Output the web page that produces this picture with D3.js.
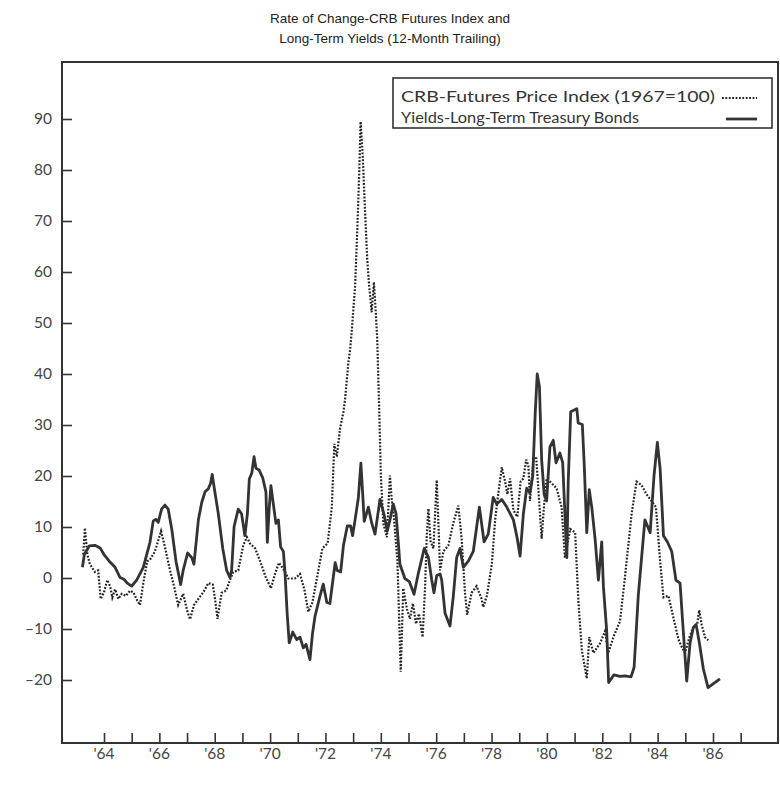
<!DOCTYPE html>
<html>
<head>
<meta charset="utf-8">
<script src="https://cdn.jsdelivr.net/npm/d3@7"></script>
<style>
  html, body { margin: 0; padding: 0; background: #fff; }
  svg { display: block; }
</style>
</head>
<body>
<div id="chart"></div>
<script>
// ---- Data (decimal year, % change) ----
const titleLines = ["Rate of Change-CRB Futures Index and", "Long-Term Yields (12-Month Trailing)"];
const legendLabels = ["CRB-Futures Price Index (1967=100)", "Yields-Long-Term Treasury Bonds"];
const yTicks = [90, 80, 70, 60, 50, 40, 30, 20, 10, 0, -10, -20];
const xTickYears = d3.range(1964, 1988);
const xLabelYears = [1964, 1966, 1968, 1970, 1972, 1974, 1976, 1978, 1980, 1982, 1984, 1986];

const yieldsSeries = [
  [1963.22,2.1],[1963.29,4.6],[1963.47,6.3],[1963.67,6.4],[1963.86,5.9],[1964.00,4.6],[1964.19,3.3],
  [1964.40,2.1],[1964.58,0.1],[1964.72,-0.25],[1964.84,-1.0],[1965.00,-1.6],[1965.18,-0.4],[1965.42,2.1],
  [1965.66,7.0],[1965.78,11.2],[1965.88,11.5],[1965.96,10.9],[1966.08,13.5],[1966.20,14.3],[1966.32,13.5],
  [1966.45,9.5],[1966.60,3.3],[1966.77,-1.3],[1966.86,1.5],[1967.02,4.9],[1967.17,4.0],[1967.25,2.7],
  [1967.41,11.4],[1967.53,14.8],[1967.65,16.9],[1967.77,17.5],[1967.85,18.6],[1967.91,20.3],[1967.97,18.1],
  [1968.13,12.6],[1968.29,5.8],[1968.43,1.5],[1968.55,0.1],[1968.61,1.5],[1968.70,10.1],[1968.85,13.5],
  [1968.97,12.6],[1969.09,8.3],[1969.18,12.6],[1969.25,19.4],[1969.34,20.6],[1969.42,23.8],[1969.49,21.5],
  [1969.60,21.2],[1969.73,19.7],[1969.85,16.9],[1969.90,7.0],[1969.97,13.8],[1970.03,18.1],[1970.12,14.4],
  [1970.21,10.7],[1970.30,11.4],[1970.38,6.1],[1970.48,5.2],[1970.54,0.9],[1970.62,-7.2],[1970.69,-12.7],
  [1970.82,-10.6],[1970.96,-12.1],[1971.08,-11.6],[1971.20,-13.7],[1971.30,-13.0],[1971.44,-16.0],
  [1971.53,-11.0],[1971.62,-7.6],[1971.79,-3.8],[1971.92,-1.2],[1972.05,-4.8],[1972.16,-5.0],[1972.35,3.0],
  [1972.42,1.5],[1972.55,1.2],[1972.65,6.4],[1972.79,10.2],[1972.91,10.2],[1972.98,8.3],[1973.07,11.4],
  [1973.19,15.8],[1973.28,22.5],[1973.34,17.0],[1973.40,11.1],[1973.55,13.9],[1973.67,10.8],[1973.79,8.6],
  [1973.97,15.4],[1974.12,12.4],[1974.23,9.2],[1974.33,11.4],[1974.45,14.5],[1974.55,12.6],[1974.63,7.1],
  [1974.69,2.7],[1974.87,-0.1],[1975.03,-0.7],[1975.20,-3.2],[1975.35,0.8],[1975.57,5.8],[1975.72,4.0],
  [1975.84,-0.4],[1975.92,-2.9],[1976.02,0.5],[1976.14,0.8],[1976.20,-0.4],[1976.32,-6.9],[1976.50,-9.4],
  [1976.62,-3.5],[1976.74,4.0],[1976.86,5.8],[1976.98,2.1],[1977.16,3.3],[1977.34,5.2],[1977.56,13.9],
  [1977.73,7.1],[1977.88,8.6],[1978.06,15.8],[1978.19,14.5],[1978.37,15.4],[1978.55,13.9],[1978.79,11.4],
  [1978.93,7.7],[1979.03,4.3],[1979.15,12.6],[1979.27,17.6],[1979.39,16.7],[1979.49,20.1],[1979.58,32.6],
  [1979.65,40.0],[1979.73,37.5],[1979.81,23.2],[1979.90,16.4],[1979.99,15.1],[1980.11,25.7],[1980.23,27.0],
  [1980.33,22.6],[1980.47,24.5],[1980.57,22.6],[1980.65,12.6],[1980.72,4.0],[1980.77,18.9],[1980.86,32.6],
  [1981.08,33.2],[1981.13,30.4],[1981.28,30.1],[1981.35,22.0],[1981.44,8.9],[1981.53,17.3],[1981.62,13.9],
  [1981.74,7.7],[1981.86,-0.4],[1981.98,7.1],[1982.04,-1.6],[1982.16,-10.4],[1982.23,-20.5],[1982.42,-19.0],
  [1982.64,-19.3],[1982.82,-19.2],[1983.04,-19.4],[1983.15,-17.5],[1983.30,-3.5],[1983.54,11.4],
  [1983.73,8.9],[1983.87,20.1],[1983.99,26.6],[1984.09,21.4],[1984.21,8.3],[1984.35,7.1],[1984.51,5.2],
  [1984.66,-0.4],[1984.81,-1.0],[1984.91,-9.1],[1985.05,-20.2],[1985.17,-12.8],[1985.29,-9.7],
  [1985.39,-9.1],[1985.51,-12.8],[1985.65,-17.8],[1985.82,-21.5],[1986.25,-19.8]
];

const crbSeries = [
  [1963.25,4.6],[1963.31,9.8],[1963.40,4.6],[1963.49,2.7],[1963.67,1.2],[1963.79,1.5],[1963.88,-4.1],
  [1964.00,-2.8],[1964.12,-0.4],[1964.22,-1.6],[1964.30,-3.8],[1964.40,-2.2],[1964.52,-4.1],[1964.64,-3.1],
  [1964.79,-3.5],[1964.94,-2.5],[1965.06,-2.8],[1965.20,-4.4],[1965.30,-5.3],[1965.42,-1.0],[1965.56,3.3],
  [1965.66,3.6],[1965.84,5.2],[1966.06,9.2],[1966.20,6.1],[1966.36,2.1],[1966.53,-1.6],[1966.68,-5.3],
  [1966.86,-3.1],[1967.01,-6.5],[1967.11,-8.1],[1967.25,-5.3],[1967.41,-4.1],[1967.59,-2.8],[1967.77,-1.0],
  [1967.93,-1.3],[1968.01,-4.1],[1968.10,-8.0],[1968.25,-2.9],[1968.41,-2.5],[1968.55,-0.4],[1968.67,1.2],
  [1968.85,1.5],[1969.03,6.4],[1969.16,8.0],[1969.27,6.8],[1969.46,5.8],[1969.64,3.3],[1969.84,0.2],
  [1970.03,-2.0],[1970.18,0.8],[1970.32,3.0],[1970.48,1.8],[1970.66,-0.1],[1970.90,-0.1],[1971.08,0.8],
  [1971.24,-2.3],[1971.38,-6.6],[1971.53,-4.8],[1971.72,0.8],[1971.89,5.8],[1972.08,6.8],[1972.23,13.9],
  [1972.32,26.3],[1972.41,23.8],[1972.53,29.4],[1972.65,32.6],[1972.71,35.1],[1972.83,42.4],[1972.89,44.7],
  [1972.95,48.4],[1973.07,57.2],[1973.15,68.3],[1973.22,79.4],[1973.27,89.5],[1973.35,82.3],[1973.43,72.0],
  [1973.51,62.4],[1973.58,57.2],[1973.67,52.1],[1973.75,58.0],[1973.81,52.8],[1973.87,46.9],[1973.95,31.4],
  [1974.00,20.3],[1974.09,10.7],[1974.22,8.0],[1974.33,20.1],[1974.40,15.0],[1974.47,12.0],[1974.60,3.3],
  [1974.72,-18.4],[1974.81,-2.0],[1974.94,-6.0],[1975.05,-8.0],[1975.16,-5.0],[1975.27,-9.0],[1975.38,-7.0],
  [1975.51,-11.6],[1975.60,-1.6],[1975.66,8.3],[1975.72,13.6],[1975.80,7.1],[1975.90,5.8],[1976.02,19.2],
  [1976.08,10.8],[1976.14,1.5],[1976.26,5.2],[1976.44,6.4],[1976.62,10.8],[1976.80,14.2],[1976.92,7.7],
  [1977.04,-2.9],[1977.12,-7.2],[1977.28,-2.9],[1977.46,-1.6],[1977.64,-4.1],[1977.70,-5.7],[1977.83,-3.5],
  [1978.01,2.7],[1978.13,11.4],[1978.24,16.4],[1978.37,21.7],[1978.49,18.9],[1978.57,16.4],[1978.67,19.5],
  [1978.79,13.3],[1978.93,12.0],[1979.05,18.9],[1979.15,19.5],[1979.25,23.2],[1979.33,22.0],[1979.39,15.1],
  [1979.51,23.2],[1979.61,23.8],[1979.69,17.6],[1979.81,7.7],[1979.90,14.5],[1979.99,19.5],[1980.11,18.9],
  [1980.35,17.6],[1980.53,13.9],[1980.65,4.0],[1980.84,9.6],[1981.02,8.9],[1981.14,-4.8],[1981.26,-14.1],
  [1981.38,-17.8],[1981.44,-19.7],[1981.53,-11.6],[1981.68,-14.7],[1981.92,-12.8],[1982.10,-10.4],
  [1982.22,-14.7],[1982.40,-11.6],[1982.64,-8.5],[1982.82,0.2],[1983.06,12.6],[1983.24,18.9],[1983.42,18.2],
  [1983.60,16.4],[1983.78,15.1],[1983.94,13.9],[1984.09,3.3],[1984.21,-3.8],[1984.39,-3.5],[1984.57,-7.8],
  [1984.75,-12.0],[1984.87,-13.5],[1984.99,-14.7],[1985.15,-11.6],[1985.29,-9.7],[1985.43,-9.1],
  [1985.50,-6.3],[1985.59,-9.1],[1985.71,-11.6],[1985.83,-12.2]
];

// ---- Layout ----
const W = 780, H = 790;
const frame = { left: 62, top: 62, right: 778, bottom: 743 };
const ink = "#333";

const svg = d3.select("#chart").append("svg").attr("width", W).attr("height", H);

const x = d3.scaleLinear().domain([1964, 1986]).range([104, 713]);
const y = d3.scaleLinear().domain([-20, 90]).range([680, 119]);

// Title
svg.append("g").selectAll("text").data(titleLines).join("text")
  .attr("x", 390).attr("y", (d, i) => 23 + i * 20)
  .attr("text-anchor", "middle")
  .attr("font-family", "'Liberation Sans', Arial, sans-serif")
  .attr("font-size", 13.5).attr("fill", "#222")
  .text(d => d);

// Frame
svg.append("rect")
  .attr("x", frame.left).attr("y", frame.top)
  .attr("width", frame.right - frame.left).attr("height", frame.bottom - frame.top)
  .attr("fill", "none").attr("stroke", ink).attr("stroke-width", 2);

// Y axis (ticks pointing inward)
const yAxis = d3.axisRight(y).tickValues(yTicks).tickSize(10).tickFormat("");
const gy = svg.append("g").attr("transform", `translate(${frame.left},0)`).call(yAxis);
gy.select(".domain").remove();
gy.selectAll(".tick line").attr("stroke", ink).attr("stroke-width", 1.6);
svg.append("g").selectAll("text").data(yTicks).join("text")
  .attr("x", 52).attr("y", d => y(d)).attr("dy", "0.35em")
  .attr("text-anchor", "end")
  .attr("font-family", "Lato, 'Open Sans', sans-serif")
  .attr("font-size", 15.5).attr("fill", "#444")
  .text(d => d < 0 ? "\u2013" + Math.abs(d) : d);

// X axis (ticks pointing up)
const xAxis = d3.axisTop(x).tickValues(xTickYears).tickSize(10).tickFormat("");
const gx = svg.append("g").attr("transform", `translate(0,${frame.bottom})`).call(xAxis);
gx.select(".domain").remove();
gx.selectAll(".tick line").attr("stroke", ink).attr("stroke-width", 1.6);
svg.append("g").selectAll("text").data(xLabelYears).join("text")
  .attr("x", d => x(d)).attr("y", 759)
  .attr("text-anchor", "middle")
  .attr("font-family", "Lato, 'Open Sans', sans-serif")
  .attr("font-size", 15.5).attr("fill", "#444")
  .text(d => "'" + String(d).slice(2));

// Lines
const line = d3.line().x(d => x(d[0])).y(d => y(d[1]));
svg.append("path").datum(crbSeries)
  .attr("d", line).attr("fill", "none")
  .attr("stroke", "#222").attr("stroke-width", 2.2)
  .attr("stroke-dasharray", "1.8,1.6");
svg.append("path").datum(yieldsSeries)
  .attr("d", line).attr("fill", "none")
  .attr("stroke", "#333").attr("stroke-width", 2.8)
  .attr("stroke-linejoin", "round");

// Legend
const legendWidths = [314, 238];
const lg = svg.append("g");
lg.append("rect").attr("x", 393).attr("y", 78).attr("width", 379).attr("height", 50)
  .attr("fill", "#fff").attr("stroke", ink).attr("stroke-width", 1.6);
lg.selectAll("text").data(legendLabels).join("text")
  .attr("x", 401).attr("y", (d, i) => 97 + i * 21).attr("dy", "0.35em")
  .attr("font-family", "Lato, 'Open Sans', sans-serif")
  .attr("font-size", 15.5).attr("fill", "#333")
  .attr("textLength", (d, i) => legendWidths[i])
  .attr("lengthAdjust", "spacingAndGlyphs")
  .text(d => d);
lg.append("line").attr("x1", 722).attr("x2", 757).attr("y1", 98).attr("y2", 98)
  .attr("stroke", "#222").attr("stroke-width", 2.2).attr("stroke-dasharray", "1.8,1.6");
lg.append("line").attr("x1", 726).attr("x2", 757).attr("y1", 119).attr("y2", 119)
  .attr("stroke", "#333").attr("stroke-width", 2.8);
</script>
</body>
</html>
